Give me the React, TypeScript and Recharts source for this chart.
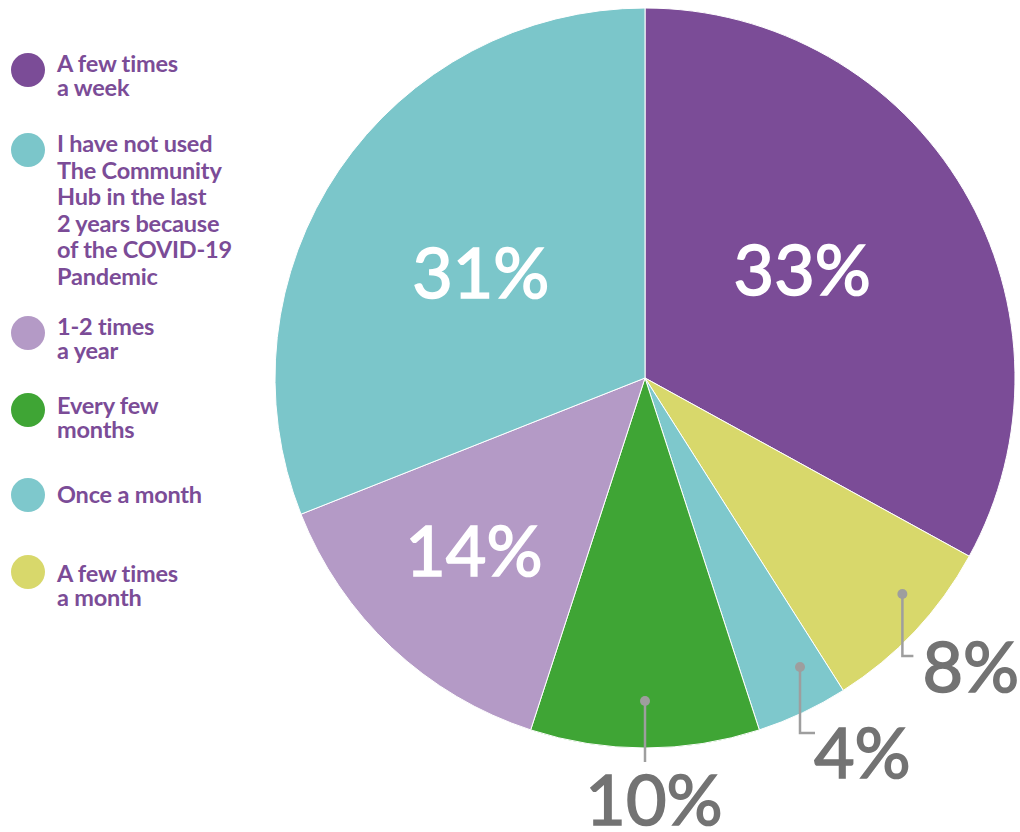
import { PieChart, Pie, Cell } from 'recharts';

const CATEGORIES: string[] = [
    'A few times a week',
    'A few times a month',
    'Once a month',
    'Every few months',
    '1-2 times a year',
    'I have not used The Community Hub in the last 2 years because of the COVID-19 Pandemic',
];

const PERCENTS: number[] = [33, 8, 4, 10, 14, 31];

const COLORS: string[] = ['#7B4C97', '#D8D86B', '#7EC8CC', '#3FA535', '#B49AC6', '#7BC6CA'];

// legend order as in the picture (index into CATEGORIES)
const LEGEND_ORDER: number[] = [0, 5, 4, 3, 2, 1];

const LEGEND_LINES: string[][] = [
    ['A few times', 'a week'],
    ['I have not used', 'The Community', 'Hub in the last', '2 years because', 'of the COVID-19', 'Pandemic'],
    ['1-2 times', 'a year'],
    ['Every few', 'months'],
    ['Once a month'],
    ['A few times', 'a month'],
];

// layout only: text top, dot centre, line height
const LEGEND_LAYOUT = [
    { top: 51, dot: 70, lh: 24 },
    { top: 130, dot: 150, lh: 26.6 },
    { top: 314, dot: 333, lh: 24 },
    { top: 393, dot: 410, lh: 24 },
    { top: 482, dot: 495, lh: 24 },
    { top: 561, dot: 572, lh: 24 },
];

const RADIAN = Math.PI / 180;
const CX = 645;
const CY = 378;
const R = 370;

// label placement per slice (inside => radius, outside => leader line)
const LABEL_STYLE: any[] = [
    { inside: true, r: 192, shift: 4.4 },
    { inside: false, dot: 336, shift: 3.2, drop: 62, tick: 11, tx: 20, ty: 98, anchor: 'start' },
    { inside: false, dot: 328, shift: 3, drop: 66, tick: 15, tx: 14, ty: 111, anchor: 'start' },
    { inside: false, dot: 323, shift: 0, drop: 61, tick: 0, tx: 9, ty: 124, anchor: 'middle' },
    { inside: true, r: 242, shift: -1.8 },
    { inside: true, r: 196, shift: 1.1 },
];

const data = CATEGORIES.map((name, i) => ({ name, value: PERCENTS[i] }));

const NUM_FONT = 'Lato, "Open Sans", sans-serif';

function renderLabel(props: any) {
    const { midAngle, index, value } = props;
    const s = LABEL_STYLE[index];
    const a = -(midAngle + s.shift) * RADIAN;
    if (s.inside) {
        const x = CX + s.r * Math.cos(a);
        const y = CY + s.r * Math.sin(a);
        return (
            <text key={`l-${index}`} x={x} y={y} fill="#fff" stroke="#fff" strokeWidth={1.6}
                textAnchor="middle" dominantBaseline="central"
                style={{ fontFamily: NUM_FONT, fontSize: 70 }}>
                {`${value}%`}
            </text>
        );
    }
    const dx = CX + s.dot * Math.cos(a);
    const dy = CY + s.dot * Math.sin(a);
    const path = s.tick
        ? `M${dx},${dy} L${dx},${dy + s.drop} L${dx + s.tick},${dy + s.drop}`
        : `M${dx},${dy} L${dx},${dy + s.drop}`;
    return (
        <g key={`l-${index}`}>
            <path d={path} stroke="#9E9E9E" strokeWidth={2.5} fill="none" />
            <circle cx={dx} cy={dy} r={5} fill="#9E9E9E" />
            <text x={dx + s.tx} y={dy + s.ty} fill="#737373" stroke="#737373" strokeWidth={1.6}
                textAnchor={s.anchor}
                style={{ fontFamily: NUM_FONT, fontSize: 70 }}>
                {`${value}%`}
            </text>
        </g>
    );
}

export default function App() {
    return (
        <div style={{ position: 'absolute', left: 0, top: 0, width: 1020, height: 832, background: '#fff', overflow: 'hidden' }}>
            <PieChart width={1020} height={832} margin={{ top: 0, right: 0, bottom: 0, left: 0 }}
                style={{ position: 'absolute', left: 0, top: 0 }}>
                <Pie
                    data={data}
                    dataKey="value"
                    nameKey="name"
                    cx={CX}
                    cy={CY}
                    outerRadius={R}
                    startAngle={90}
                    endAngle={-270}
                    stroke="#fff"
                    strokeWidth={1}
                    labelLine={false}
                    label={renderLabel}
                    isAnimationActive={false}
                >
                    {data.map((entry, index) => (
                        <Cell key={`cell-${index}`} fill={COLORS[index]} />
                    ))}
                </Pie>
            </PieChart>

            {LEGEND_ORDER.map((ci, i) => {
                const lay = LEGEND_LAYOUT[i];
                const lines = LEGEND_LINES[i];
                return (
                    <div key={`lg-${i}`}>
                        <div style={{
                            position: 'absolute', left: 11, top: lay.dot - 17, width: 34, height: 34,
                            borderRadius: '50%', background: COLORS[ci],
                        }} />
                        <div style={{
                            position: 'absolute', left: 57, top: lay.top, color: '#7B4C97',
                            fontFamily: 'Lato, "Open Sans", sans-serif', fontWeight: 700, fontSize: 23.5,
                            lineHeight: `${lay.lh}px`, letterSpacing: -0.2, whiteSpace: 'nowrap',
                        }}>
                            {lines.map((t, k) => (
                                <span key={k}>{t}{k < lines.length - 1 ? <br /> : null}</span>
                            ))}
                        </div>
                    </div>
                );
            })}
        </div>
    );
}
